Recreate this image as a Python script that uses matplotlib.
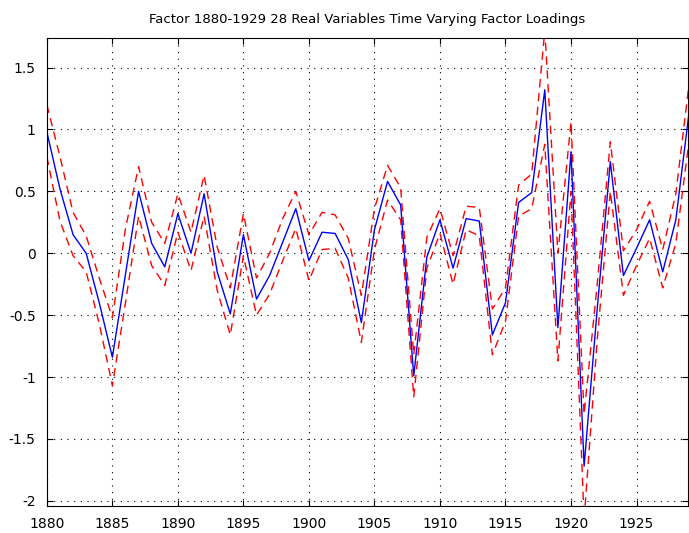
import numpy as np
import matplotlib.pyplot as plt

years = np.arange(1880, 1930)

loading = [0.98, 0.52, 0.15, 0.00, -0.40, -0.84, -0.17, 0.50, 0.08, -0.11,
           0.32, 0.00, 0.48, -0.15, -0.49, 0.15, -0.37, -0.18, 0.09, 0.36,
           -0.06, 0.17, 0.16, -0.05, -0.56, 0.19, 0.58, 0.39, -0.99, -0.03,
           0.27, -0.12, 0.28, 0.26, -0.66, -0.40, 0.41, 0.49, 1.32, -0.60,
           0.82, -1.72, -0.45, 0.74, -0.18, 0.04, 0.27, -0.15, 0.27, 1.13]

upper = [1.20, 0.78, 0.33, 0.14, -0.20, -0.52, 0.20, 0.70, 0.25, 0.08,
         0.48, 0.17, 0.63, 0.05, -0.28, 0.32, -0.20, 0.00, 0.28, 0.50,
         0.15, 0.33, 0.31, 0.12, -0.34, 0.36, 0.71, 0.53, -0.82, 0.13,
         0.36, -0.02, 0.38, 0.37, -0.45, -0.28, 0.55, 0.64, 1.80, 0.00,
         1.06, -1.30, -0.25, 0.90, 0.02, 0.19, 0.42, 0.03, 0.48, 1.36]

lower = [0.78, 0.26, -0.02, -0.15, -0.57, -1.07, -0.40, 0.30, -0.10, -0.26,
         0.17, -0.14, 0.30, -0.30, -0.66, -0.02, -0.50, -0.33, -0.06, 0.20,
         -0.22, 0.03, 0.04, -0.20, -0.72, 0.03, 0.43, 0.27, -1.16, -0.12,
         0.16, -0.25, 0.19, 0.14, -0.82, -0.55, 0.30, 0.36, 0.88, -0.87,
         0.50, -2.15, -0.70, 0.50, -0.34, -0.10, 0.12, -0.28, 0.08, 0.90]

xticks = np.arange(1880, 1930, 5)
yticks = [-2, -1.5, -1, -0.5, 0, 0.5, 1, 1.5]
ylabels = ['-2', '-1.5', '-1', '-0.5', '0', '0.5', '1', '1.5']

plt.rcParams['font.family'] = ['DejaVu Sans']

fig = plt.figure(figsize=(6.89, 5.33), dpi=100)
ax = fig.add_axes([0.068, 0.051, 0.93, 0.878])

# confidence bands (red dashed) and the loading itself (blue)
ax.plot(years, upper, color='red', linestyle=(0, (6, 4)), linewidth=1)
ax.plot(years, lower, color='red', linestyle=(0, (6, 4)), linewidth=1)
ax.plot(years, loading, color='blue', linewidth=1)

ax.set_xlim(1880, 1928.9)
ax.set_ylim(-2.04, 1.74)
ax.set_xticks(xticks)
ax.set_yticks(yticks)
ax.set_yticklabels(ylabels)
ax.tick_params(direction='in', length=4, width=0.8, labelsize=10,
               top=True, right=True, pad=8)
ax.grid(True, color='black', linestyle=(0, (1, 5)), linewidth=0.8)
for s in ax.spines.values():
    s.set_linewidth(0.8)

ax.set_title('Factor 1880-1929 28 Real Variables Time Varying Factor Loadings',
             fontsize=9.5, pad=11)

fig.savefig('out.png', dpi=100)
